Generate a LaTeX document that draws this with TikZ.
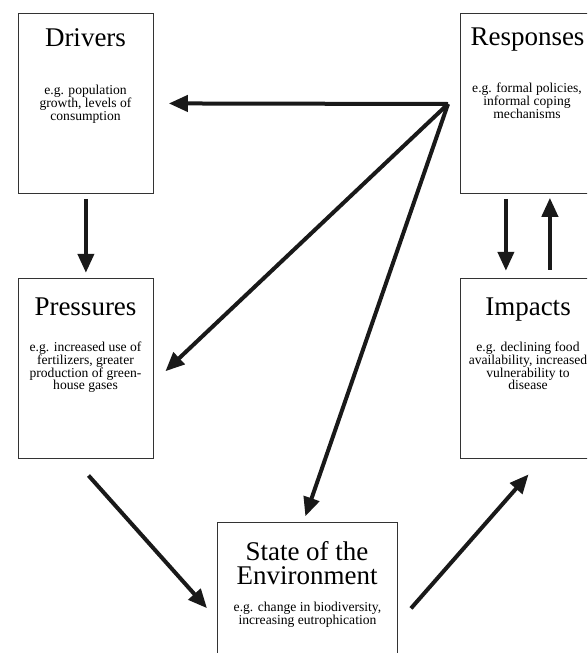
\documentclass[tikz,border=0pt]{standalone}
\usepackage{fontspec}
\setmainfont{Liberation Serif}
\usetikzlibrary{arrows.meta,positioning}

\begin{document}
\begin{tikzpicture}
[x=1pt,y=-1pt,
box/.style={rectangle,draw=black!80,line width=0.8pt,minimum width=135pt,
  minimum height=180pt,inner sep=0pt},
heading/.style={font=\fontsize{27}{24}\selectfont,inner sep=0pt,anchor=base},
note/.style={font=\fontsize{13.6}{12.8}\selectfont,align=center,inner sep=0pt,anchor=north},
flow/.style={-{Triangle[length=19pt,width=16pt]},line width=4pt,black!90},
node distance=84pt]
\clip (0,0) rectangle (587,653);
% the five boxes
\node[box,anchor=north west] (drivers) at (18,13) {};
\node[box] (pressures) [below=of drivers] {};
\node[box,anchor=north west] (responses) at (460,13) {};
\node[box] (impacts) [below=of responses] {};
\node[box,minimum width=180pt,anchor=north west] (state) at (217,522) {};
% texts
\node[heading] (drivers title) at (85.5,46.7) {Drivers};
\node[note] (drivers text) at (85.5,84.8) {e.g. population\\growth, levels of\\consumption};
\node[heading] (responses title) at (527.5,45) {Responses};
\node[note] (responses text) at (527,82.8) {e.g. formal policies,\\informal coping\\mechanisms};
\node[heading] (pressures title) at (85.5,315) {Pressures};
\node[note] (pressures text) at (85.5,341.8) {e.g. increased use of\\fertilizers, greater\\production of green-\\house gases};
\node[heading] (impacts title) at (528,315) {Impacts};
\node[note] (impacts text) at (528,341.8) {e.g. declining food\\availability, increased\\vulnerability to\\disease};
\node[heading,anchor=north,align=center] (state title) at (307,541) {State of the\\Environment};
\node[note] (state text) at (307.5,601.8) {e.g. change in biodiversity,\\increasing eutrophication};
% arrows
\coordinate (hub) at (448,104);
\draw[flow,shorten <=5pt,shorten >=5pt] (drivers.south) -- (pressures.north);
\draw[flow,shorten <=5pt,shorten >=7pt] ([xshift=-22pt]responses.south) -- ([xshift=-22pt]impacts.north);
\draw[flow,shorten <=8pt,shorten >=4pt] ([xshift=22pt]impacts.north) -- ([xshift=22pt]responses.south);
\draw[flow,shorten >=15pt] (hub) -- (drivers.east);
\draw[flow,shorten >=16pt] (hub) -- ([yshift=-14pt]pressures.east);
\draw[flow,shorten >=6pt] (hub) -- ([xshift=-4pt]state.north);
\draw[flow,shorten <=22.7pt,shorten >=15pt] ([xshift=-12.5pt]pressures.south) -- ([yshift=-7pt]state.west);
\draw[flow,shorten <=20pt,shorten >=21pt] ([yshift=-11pt]state.east) -- ([xshift=14.5pt]impacts.south);
\end{tikzpicture}
\end{document}
